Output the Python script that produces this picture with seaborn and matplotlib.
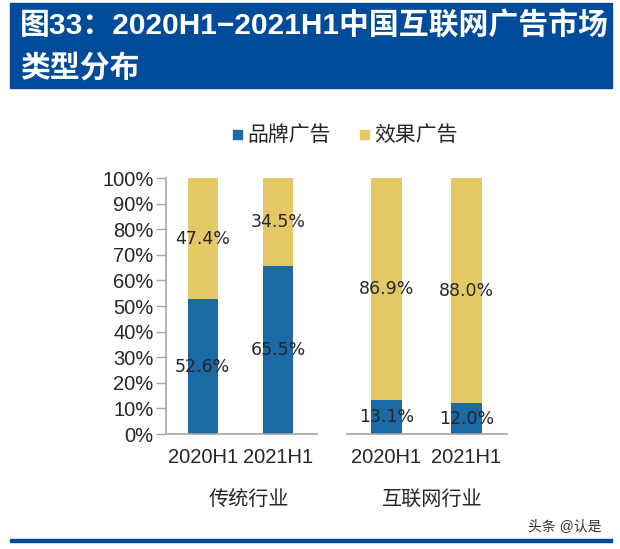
import matplotlib
matplotlib.use("Agg")
import matplotlib.pyplot as plt
import seaborn as sns
import pandas as pd
from matplotlib.patches import Rectangle

# ---- data ----
periods = ["2020H1", "2021H1"]
groups = ["传统行业", "互联网行业"]
brand_trad = [52.6, 65.5]
effect_trad = [47.4, 34.5]
brand_net = [13.1, 12.0]
effect_net = [86.9, 88.0]
yticks = [0, 10, 20, 30, 40, 50, 60, 70, 80, 90, 100]
legend_labels = ["品牌广告", "效果广告"]
title = "图33：2020H1−2021H1中国互联网广告市场\n类型分布"
watermark = "头条 @认是"

BLUE = "#1B69A5"
YELLOW = "#E4C866"
NAVY = "#004C9B"
TXT = "#262626"

sns.set_theme(style="white")
plt.rcParams["font.family"] = ["Liberation Sans", "Noto Sans CJK SC", "DejaVu Sans"]

W, H = 620, 549
fig = plt.figure(figsize=(W / 100, H / 100), dpi=100)

def px_axes(x0, x1, ytop, ybot):
    return fig.add_axes([x0 / W, 1 - ybot / H, (x1 - x0) / W, (ybot - ytop) / H])

ax1 = px_axes(166, 317, 178, 434)
ax2 = px_axes(347, 507, 178, 434)

def draw(ax, brand, effect, width, xlim):
    df = pd.DataFrame({"period": periods, "brand": brand,
                       "total": [b + e for b, e in zip(brand, effect)]})
    sns.barplot(data=df, x="period", y="total", color=YELLOW, saturation=1,
                width=width, ax=ax, linewidth=0)
    sns.barplot(data=df, x="period", y="brand", color=BLUE, saturation=1,
                width=width, ax=ax, linewidth=0)
    for i, (b, e) in enumerate(zip(brand, effect)):
        ax.text(i, b / 2, f"{b:.1f}%", ha="center", va="center",
                fontsize=12.5, color=TXT, family="DejaVu Sans")
        ax.text(i, b + e / 2, f"{e:.1f}%", ha="center", va="center",
                fontsize=12.5, color=TXT, family="DejaVu Sans")
    ax.set_xlim(*xlim)
    ax.set_ylim(0, 100)
    ax.set_xlabel("")
    ax.set_ylabel("")
    ax.set_xticks([0, 1])
    ax.set_xticklabels(periods, fontsize=14.5, color=TXT)
    ax.tick_params(axis="x", length=0, pad=10)
    for s in ["top", "right"]:
        ax.spines[s].set_visible(False)
    ax.spines["bottom"].set_color("#A6A6A6")
    ax.spines["bottom"].set_linewidth(1.2)
    ax.set_facecolor("none")

draw(ax1, brand_trad, effect_trad, 0.4, (-0.49, 1.52))
draw(ax2, brand_net, effect_net, 0.39, (-0.49, 1.51))

ax1.set_yticks(yticks)
ax1.set_yticklabels([f"{v}%" for v in yticks], fontsize=14.5, color=TXT)
ax1.tick_params(axis="y", left=True, length=7, width=1, color="#A6A6A6", pad=2)
ax1.spines["left"].set_color("#A6A6A6")
ax1.spines["left"].set_linewidth(1.2)

ax2.spines["left"].set_visible(False)
ax2.set_yticks([])

# group labels
fig.text(249 / W, 1 - 499 / H, groups[0], ha="center", va="center", fontsize=14.5, color=TXT)
fig.text(432 / W, 1 - 499 / H, groups[1], ha="center", va="center", fontsize=14.5, color=TXT)

# legend
for (x0, col, lab) in [(233, BLUE, legend_labels[0]), (360, YELLOW, legend_labels[1])]:
    fig.patches.append(Rectangle((x0 / W, 1 - 139 / H), 9 / W, 9 / H,
                                 transform=fig.transFigure, color=col, zorder=3))
    fig.text((x0 + 14) / W, 1 - 135 / H, lab, ha="left", va="center",
             fontsize=15, color=TXT)

# title banner
fig.patches.append(Rectangle((10 / W, 1 - 88 / H), 602 / W, 85 / H,
                             transform=fig.transFigure, color=NAVY, zorder=0))
fig.text(20 / W, 1 - 47 / H, title, ha="left", va="center", fontsize=21.5,
         color="white", fontweight="bold", linespacing=1.6)

# bottom line
fig.patches.append(Rectangle((10 / W, 1 - 542 / H), 602 / W, 3 / H,
                             transform=fig.transFigure, color=NAVY, zorder=0))
fig.text(565 / W, 1 - 526 / H, watermark, ha="center", va="center",
         fontsize=10, color="#333333")

fig.savefig("out.png", dpi=100)
